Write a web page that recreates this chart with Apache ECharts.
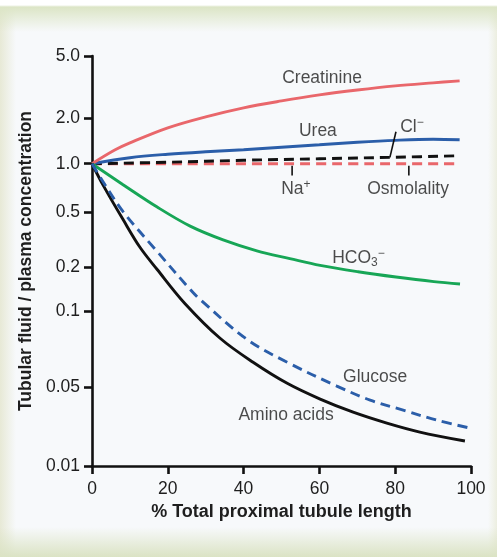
<!DOCTYPE html>
<html>
<head>
<meta charset="utf-8">
<script src="https://cdn.jsdelivr.net/npm/echarts@6/dist/echarts.min.js"></script>
<style>
  html, body { margin: 0; padding: 0; }
  #wrap {
    position: relative; width: 497px; height: 557px; overflow: hidden;
    background:
      linear-gradient(to bottom, #ffffff 0px, #ffffff 5px, #dce5c6 7px, rgba(247,249,251,0) 32px),
      linear-gradient(to top, #dbe3c4 0px, rgba(247,249,251,0) 30px),
      linear-gradient(to right, #e7e9d6 0px, rgba(247,249,251,0) 16px),
      linear-gradient(to left, #eceee0 0px, rgba(247,249,251,0) 9px),
      #f7f9fb;
  }
  #chart { position: absolute; left: 0; top: 0; width: 497px; height: 557px; }
</style>
</head>
<body>
<div id="wrap"><div id="chart"></div></div>
<script>
// % of total proximal tubule length vs. tubular fluid / plasma concentration ratio
const creatinineX = [0, 6, 10, 20, 30, 40, 50, 60, 70, 80, 90, 97];
const creatinineY = [1.0, 1.23, 1.37, 1.72, 2.03, 2.32, 2.57, 2.81, 3.02, 3.21, 3.36, 3.46];

const ureaX = [0, 10, 20, 30, 40, 50, 60, 70, 80, 90, 97];
const ureaY = [1.0, 1.095, 1.154, 1.198, 1.235, 1.282, 1.331, 1.382, 1.424, 1.447, 1.436];

const chlorideX = [0, 20, 40, 60, 80, 97];
const chlorideY = [1.0, 1.023, 1.054, 1.078, 1.103, 1.128];

const sodiumX = [0, 97];
const sodiumY = [1.0, 1.0];

const bicarbX = [0, 8.2, 17.2, 25.9, 34.6, 43.5, 52.2, 60.2, 70.2, 80.2, 90.2, 97.1];
const bicarbY = [1.0, 0.743, 0.541, 0.399, 0.317, 0.264, 0.232, 0.207, 0.187, 0.172, 0.160, 0.154];

const glucoseX = [0, 3, 8.2, 17.2, 25.9, 28.5, 40.9, 51.5, 64.6, 73.4, 82.1, 91.0, 99.7];
const glucoseY = [1.0, 0.770, 0.507, 0.261, 0.1414, 0.1208, 0.0774, 0.0628, 0.0505, 0.0384, 0.0313, 0.0255, 0.0217];

const aminoX = [0, 3, 8.2, 12.7, 17.2, 24.5, 33.8, 42.5, 51.5, 60.2, 68.9, 77.8, 86.5, 98.4];
const aminoY = [1.0, 0.733, 0.445, 0.279, 0.1938, 0.1134, 0.0782, 0.0628, 0.0518, 0.0392, 0.0300, 0.0240, 0.0200, 0.01665];

// y-axis tick labels and the axis offsets they sit at (stretched log scale)
const yTickValues = [0.01, 0.05, 0.1, 0.2, 0.5, 1, 2, 5];
const yTickLabels = ['0.01', '0.05', '0.1', '0.2', '0.5', '1.0', '2.0', '5.0'];
const yTickOffsets = [0, 79, 155, 199, 254, 303, 349, 411];

const xTicks = [0, 20, 40, 60, 80, 100];

// annotation text anchored in data space: [x, ratio]
const noteCreatinine = [60.7, 3.6];
const noteUrea = [59.6, 1.64];
const noteChloride = [81.3, 1.75];
const noteSodium = [53.8, 0.70];
const noteOsmolality = [83.4, 0.70];
const noteBicarb = [70.3, 0.233];
const noteGlucose = [74.7, 0.0548];
const noteAmino = [51.2, 0.0283];

// leader lines: [[x0, r0], [x1, r1]]
const leaderChloride = [[80.2, 1.62], [78.6, 1.10]];
const leaderSodium = [[52.8, 0.972], [52.8, 0.845]];
const leaderOsmolality = [[83.6, 0.972], [83.6, 0.845]];

// piecewise log interpolation between labelled ticks
function warp(v) {
  const lv = Math.log10(v);
  const L = yTickValues.map(Math.log10);
  let i = 0;
  while (i < L.length - 2 && lv > L[i + 1]) i++;
  const t = (lv - L[i]) / (L[i + 1] - L[i]);
  return yTickOffsets[i] + t * (yTickOffsets[i + 1] - yTickOffsets[i]);
}

function pts(xs, ys) { return xs.map((x, i) => [x, warp(ys[i])]); }

const RED = '#e9676b', BLUE = '#2b5ea9', GREEN = '#17a656', BLACK = '#111111';
const FONT = '"Liberation Sans", Arial, sans-serif';
const TXT = '#1e1e1e';
const FS = 17.5;

function curve(name, xs, ys, color, dashed, z) {
  return {
    name, type: 'line', data: pts(xs, ys), smooth: 0.35, symbol: 'none', z: z || 2,
    lineStyle: { color, width: 2.9, type: dashed ? [10, 6] : 'solid', cap: 'butt' },
    silent: true, animation: false
  };
}

function leader(seg) {
  return {
    type: 'line', data: pts(seg.map(p => p[0]), seg.map(p => p[1])), symbol: 'none',
    lineStyle: { color: BLACK, width: 1.6 }, silent: true, animation: false, z: 5
  };
}

const rich = {
  n: { fontSize: FS, fontFamily: FONT, color: TXT },
  sub: { fontSize: 12, fontFamily: FONT, color: TXT, padding: [9, 0, 0, 0] },
  sup: { fontSize: 12, fontFamily: FONT, color: TXT, padding: [0, 0, 9, 0] }
};

const notes = [
  { pos: noteCreatinine, text: '{n|Creatinine}', align: 'center' },
  { pos: noteUrea, text: '{n|Urea}', align: 'center' },
  { pos: noteChloride, text: '{n|Cl}{sup|−}', align: 'left' },
  { pos: noteSodium, text: '{n|Na}{sup|+}', align: 'center' },
  { pos: noteOsmolality, text: '{n|Osmolality}', align: 'center' },
  { pos: noteBicarb, text: '{n|HCO}{sub|3}{sup|−}', align: 'center' },
  { pos: noteGlucose, text: '{n|Glucose}', align: 'center' },
  { pos: noteAmino, text: '{n|Amino acids}', align: 'center' }
];

const chart = echarts.init(document.getElementById('chart'), null, { renderer: 'canvas' });

chart.setOption({
  animation: false,
  backgroundColor: 'transparent',
  grid: { left: 92, right: 26, top: 56, bottom: 91, containLabel: false },
  xAxis: {
    type: 'value', min: 0, max: 100, interval: 20,
    name: '% Total proximal tubule length', nameLocation: 'middle', nameGap: 35,
    nameTextStyle: { fontFamily: FONT, fontSize: 18, fontWeight: 'bold', color: TXT },
    axisLine: { lineStyle: { color: BLACK, width: 2.6 } },
    axisTick: { length: 8, lineStyle: { color: BLACK, width: 2.6 }, customValues: xTicks },
    axisLabel: { fontFamily: FONT, fontSize: FS, color: TXT, margin: 14, customValues: xTicks },
    splitLine: { show: false }
  },
  yAxis: {
    type: 'value', min: 0, max: yTickOffsets[yTickOffsets.length - 1],
    name: 'Tubular fluid / plasma concentration', nameLocation: 'middle', nameGap: 53,
    nameTextStyle: { fontFamily: FONT, fontSize: 17.5, fontWeight: 'bold', color: TXT },
    axisLine: { lineStyle: { color: BLACK, width: 2.6 } },
    axisTick: { length: 8, lineStyle: { color: BLACK, width: 2.6 }, customValues: yTickOffsets },
    axisLabel: {
      fontFamily: FONT, fontSize: FS, color: TXT, margin: 12, customValues: yTickOffsets,
      formatter: v => {
        const i = yTickOffsets.findIndex(o => Math.abs(o - v) < 1e-6);
        return i >= 0 ? yTickLabels[i] : '';
      }
    },
    splitLine: { show: false }
  },
  series: [
    curve('Na+ / Osmolality', sodiumX, sodiumY, RED, true, 2),
    curve('Cl-', chlorideX, chlorideY, BLACK, true, 3),
    curve('Urea', ureaX, ureaY, BLUE, false, 3),
    curve('Creatinine', creatinineX, creatinineY, RED, false, 3),
    curve('HCO3-', bicarbX, bicarbY, GREEN, false, 3),
    curve('Amino acids', aminoX, aminoY, BLACK, false, 3),
    curve('Glucose', glucoseX, glucoseY, BLUE, true, 4),
    leader(leaderChloride),
    leader(leaderSodium),
    leader(leaderOsmolality),
    {
      type: 'scatter', symbolSize: 0, silent: true, animation: false, z: 6,
      data: notes.map(n => ({
        value: [n.pos[0], warp(n.pos[1])],
        label: {
          show: true, position: 'inside', formatter: n.text, rich,
          align: n.align, verticalAlign: 'middle'
        }
      }))
    }
  ]
});
</script>
</body>
</html>
